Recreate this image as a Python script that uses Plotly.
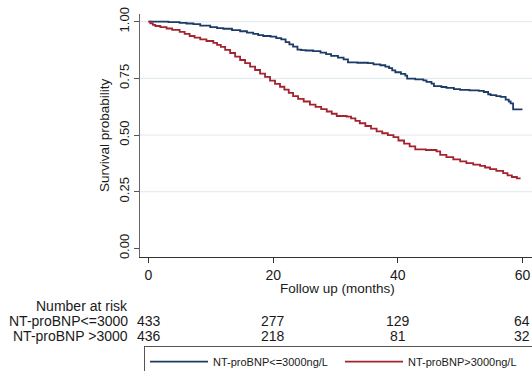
import plotly.graph_objects as go

# Kaplan-Meier step estimates (months, survival probability)
low_t = [0, 3.2, 5.0, 6.1, 7.2, 8.3, 9.9, 11.0, 12.0, 13.4, 14.7, 15.8, 16.8, 17.6,
         18.4, 19.6, 20.5, 21.3, 22.0, 22.6, 23.2, 23.9, 24.5, 25.2, 26.4, 27.6, 28.5,
         29.3, 30.4, 31.3, 32.0, 33.5, 35.2, 36.1, 37.2, 38.0, 38.6, 39.1, 39.6, 40.5,
         41.2, 41.5, 42.8, 44.1, 44.6, 45.4, 45.8, 47.0, 47.8, 49.0, 50.0, 51.5, 53.0,
         53.8, 54.5, 54.9, 55.8, 56.5, 57.3, 57.8, 58.1, 58.5, 60.0]
low_s = [1.0, 0.998, 0.995, 0.992, 0.989, 0.983, 0.976, 0.972, 0.969, 0.963, 0.958,
         0.952, 0.946, 0.941, 0.937, 0.934, 0.928, 0.922, 0.910, 0.900, 0.890, 0.877,
         0.875, 0.873, 0.870, 0.864, 0.857, 0.849, 0.842, 0.834, 0.821, 0.819, 0.817,
         0.812, 0.808, 0.802, 0.795, 0.785, 0.777, 0.770, 0.762, 0.749, 0.746, 0.741,
         0.735, 0.727, 0.716, 0.712, 0.708, 0.703, 0.699, 0.697, 0.695, 0.690, 0.680,
         0.676, 0.672, 0.668, 0.656, 0.648, 0.640, 0.613, 0.613]

high_t = [0, 0.3, 0.7, 1.1, 1.9, 2.9, 3.8, 5.0, 5.8, 6.6, 7.4, 8.3, 9.3, 10.4, 11.0,
          11.6, 12.3, 13.1, 13.9, 14.7, 15.5, 16.3, 17.1, 17.9, 18.7, 19.5, 20.3, 21.1,
          21.8, 22.5, 23.2, 24.0, 24.9, 25.9, 26.8, 27.7, 28.6, 29.4, 30.2, 31.8, 32.5,
          33.2, 33.9, 34.8, 35.7, 36.6, 37.5, 38.4, 39.3, 40.1, 41.0, 41.9, 42.8, 44.5,
          46.2, 46.8, 47.8, 48.9, 50.0, 51.0, 52.1, 53.2, 54.0, 54.8, 55.8, 56.9, 57.6,
          58.3, 59.1, 59.7]
high_s = [1.0, 0.993, 0.986, 0.981, 0.976, 0.970, 0.964, 0.955, 0.946, 0.937, 0.930,
          0.922, 0.915, 0.907, 0.898, 0.889, 0.876, 0.862, 0.846, 0.831, 0.817, 0.802,
          0.787, 0.771, 0.757, 0.740, 0.726, 0.713, 0.700, 0.686, 0.672, 0.660, 0.648,
          0.634, 0.624, 0.614, 0.604, 0.594, 0.584, 0.581, 0.574, 0.563, 0.552, 0.540,
          0.528, 0.516, 0.508, 0.500, 0.491, 0.476, 0.462, 0.450, 0.437, 0.434, 0.428,
          0.413, 0.403, 0.393, 0.384, 0.376, 0.370, 0.364, 0.357, 0.350, 0.342, 0.332,
          0.322, 0.315, 0.309, 0.309]

# Number-at-risk table
risk_times = [0, 20, 40, 60]
risk_low = [433, 277, 129, 64]
risk_high = [436, 218, 81, 32]
risk_labels = ["NT-proBNP<=3000", "NT-proBNP >3000"]

legend_names = ["NT-proBNP<=3000ng/L", "NT-proBNP>3000ng/L"]
x_ticks = [0, 20, 40, 60]
y_ticks = [0.0, 0.25, 0.5, 0.75, 1.0]
grid_vals = [0.25, 0.5, 0.75, 1.0]

BLUE = "#1c3b66"
RED = "#a3232f"
TXT = "#1a1a1a"
FONT = "Liberation Sans, Arial, sans-serif"

fig = go.Figure()
fig.add_trace(go.Scatter(x=low_t, y=low_s, mode="lines", line_shape="hv",
                         line=dict(color=BLUE, width=1.8), name=legend_names[0]))
fig.add_trace(go.Scatter(x=high_t, y=high_s, mode="lines", line_shape="hv",
                         line=dict(color=RED, width=1.8), name=legend_names[1]))

for g in grid_vals:
    fig.add_shape(type="line", xref="paper", x0=0, x1=1, yref="y", y0=g, y1=g,
                  line=dict(color="#dde8ee", width=1), layer="below")

ann = []
# axis titles
ann.append(dict(text="Follow up (months)", xref="paper", yref="paper", x=0.5045, y=-0.1276,
                xanchor="center", yanchor="middle", showarrow=False,
                font=dict(size=13.5, color=TXT, family=FONT)))
ann.append(dict(text="Survival probability", xref="paper", yref="paper", x=-0.0918, y=0.502,
                xanchor="center", yanchor="middle", textangle=-90, showarrow=False,
                font=dict(size=13.5, color=TXT, family=FONT)))
# risk table
ann.append(dict(text="Number at risk", xref="paper", yref="paper", x=-0.0255, y=-0.2017,
                xanchor="right", yanchor="middle", showarrow=False,
                font=dict(size=14, color=TXT, family=FONT)))
for row_y, lab, vals in [(-0.2634, risk_labels[0], risk_low), (-0.3251, risk_labels[1], risk_high)]:
    ann.append(dict(text=lab, xref="paper", yref="paper", x=-0.0255, y=row_y,
                    xanchor="right", yanchor="middle", showarrow=False,
                    font=dict(size=14, color=TXT, family=FONT)))
    for t, v in zip(risk_times, vals):
        ann.append(dict(text=str(v), xref="x", yref="paper", x=t, y=row_y,
                        xanchor="center", yanchor="middle", showarrow=False,
                        font=dict(size=14, color=TXT, family=FONT)))

fig.update_layout(
    width=532, height=371,
    margin=dict(l=140, r=0, t=14, b=114, autoexpand=False),
    paper_bgcolor="white", plot_bgcolor="white",
    font=dict(family=FONT, color=TXT),
    annotations=ann,
    showlegend=True,
    legend=dict(orientation="h", x=0.0102, y=-0.367, xanchor="left", yanchor="top",
                bordercolor="#555555", borderwidth=1, bgcolor="white",
                font=dict(size=11, color=TXT, family=FONT),
                itemwidth=58, entrywidth=122, entrywidthmode="pixels", itemclick=False),
    xaxis=dict(range=[-1.364, 61.53], tickvals=x_ticks, ticks="outside", ticklen=5,
               tickcolor="#333333", showline=True, linecolor="#333333", linewidth=1,
               showgrid=False, zeroline=False, automargin=False,
               tickfont=dict(size=14, color=TXT, family=FONT)),
    yaxis=dict(range=[-0.0379, 1.034], tickvals=y_ticks, tickformat=".2f",
               ticks="outside", ticklen=5, tickcolor="#555555", tickangle=-90,
               showline=True, linecolor="#666666", linewidth=1,
               showgrid=False, zeroline=False, automargin=False,
               tickfont=dict(size=13, color=TXT, family=FONT)),
)

fig.write_html("out.html")
